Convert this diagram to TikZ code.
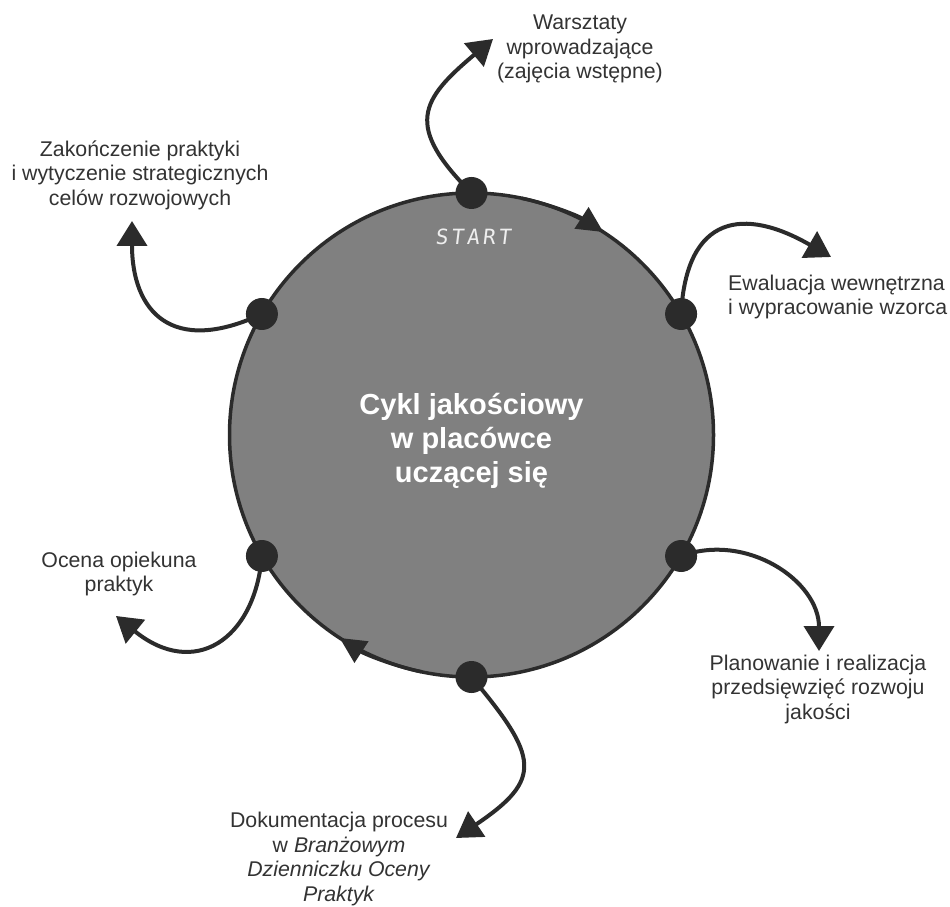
\documentclass[tikz,border=0pt]{standalone}
\usepackage{fontspec}
\setmainfont{Liberation Sans}
\newfontfamily\startfont[LetterSpace=15,FakeSlant=0.12]{DejaVu Sans Mono}
\usetikzlibrary{arrows.meta,calc}
\definecolor{ink}{HTML}{2B2B2B}
\definecolor{disk}{HTML}{808080}
\definecolor{txt}{HTML}{333333}
\definecolor{startc}{HTML}{EEEEEE}
\begin{document}
\begin{tikzpicture}[x=1pt,y=1pt,
  dotnode/.style={circle,fill=ink,minimum size=32pt,inner sep=0pt},
  branch/.style={draw=ink,line width=4pt,-{Triangle[length=25pt,width=30pt]}},
  ringarrow/.style={draw=ink,line width=3.5pt,-{Triangle[length=26pt,width=25pt]}},
  lbl/.style={text=txt,font=\fontsize{21.3}{24.5}\selectfont,align=center,inner sep=0pt}]
\useasboundingbox (0,0) rectangle (950,906);
\fill[white] (0,0) rectangle (950,906);
\node[circle,draw=ink,fill=disk,line width=3.5pt,minimum size=484pt,inner sep=0pt] (disk) at (471.5,471) {};
% points on the ring
\path (disk.center) ++(90:242) coordinate (p90);
\path (disk.center) ++(30:242) coordinate (p30);
\path (disk.center) ++(-30:242) coordinate (pm30);
\path (disk.center) ++(-90:242) coordinate (pm90);
\path (disk.center) ++(210:242) coordinate (p210);
\path (disk.center) ++(150:242) coordinate (p150);
% arrows on the ring (clockwise)
\path (disk.center) ++(78:242) coordinate (ra1s);
\path (disk.center) ++(258:242) coordinate (ra2s);
\draw[ringarrow] (ra1s) arc[start angle=78,end angle=57,radius=242];
\draw[ringarrow] (ra2s) arc[start angle=258,end angle=237,radius=242];
% free ends
\coordinate (t1) at (493,867);
\coordinate (t2) at (831,649);
\coordinate (t3) at (819,255);
\coordinate (t4) at (456,68);
\coordinate (t5) at (116,290);
\coordinate (t6) at (132,685);
% branches
\draw[branch] (p90) to[out=135,in=220,out distance=95pt,in distance=95pt] (t1);
\draw[branch] (p30) to[out=87,in=150,out distance=100pt,in distance=100pt] (t2);
\draw[branch] (pm30) to[out=20,in=90,out distance=70pt,in distance=70pt] (t3);
\draw[branch] (pm90) to[out=-50,in=34,out distance=105pt,in distance=105pt] (t4);
\draw[branch] (p210) to[out=-95,in=-39,out distance=85pt,in distance=100pt] (t5);
\draw[branch] (p150) to[out=205,in=-90,out distance=100pt,in distance=90pt] (t6);
% dots
\node[dotnode] (d90) at (p90) {};
\node[dotnode] (d30) at (p30) {};
\node[dotnode] (dm30) at (pm30) {};
\node[dotnode] (dm90) at (pm90) {};
\node[dotnode] (d210) at (p210) {};
\node[dotnode] (d150) at (p150) {};
% texts
\node[text=white,font=\fontsize{29}{34}\selectfont\bfseries,align=center] (title) at (471.5,465) {Cykl jakościowy\\w placówce\\uczącej się};
\node[text=startc,font=\startfont\fontsize{21}{21}\selectfont,inner sep=0pt] (start) at (473,669) {START};
\node[lbl] (l1) at (580,857) {Warsztaty\\wprowadzające\\(zajęcia wstępne)};
\node[lbl,align=left,anchor=west] (l2) at (728,609) {Ewaluacja wewnętrzna\\i wypracowanie wzorca};
\node[lbl] (l3) at (818,217) {Planowanie i realizacja\\przedsięwzięć rozwoju\\jakości};
\node[lbl] (l4) at (339,47) {Dokumentacja procesu\\w \textit{Branżowym}\\\textit{Dzienniczku Oceny}\\\textit{Praktyk}};
\node[lbl] (l5) at (119,332) {Ocena opiekuna\\praktyk};
\node[lbl] (l6) at (140,731) {Zakończenie praktyki\\i wytyczenie strategicznych\\celów rozwojowych};
\end{tikzpicture}
\end{document}
